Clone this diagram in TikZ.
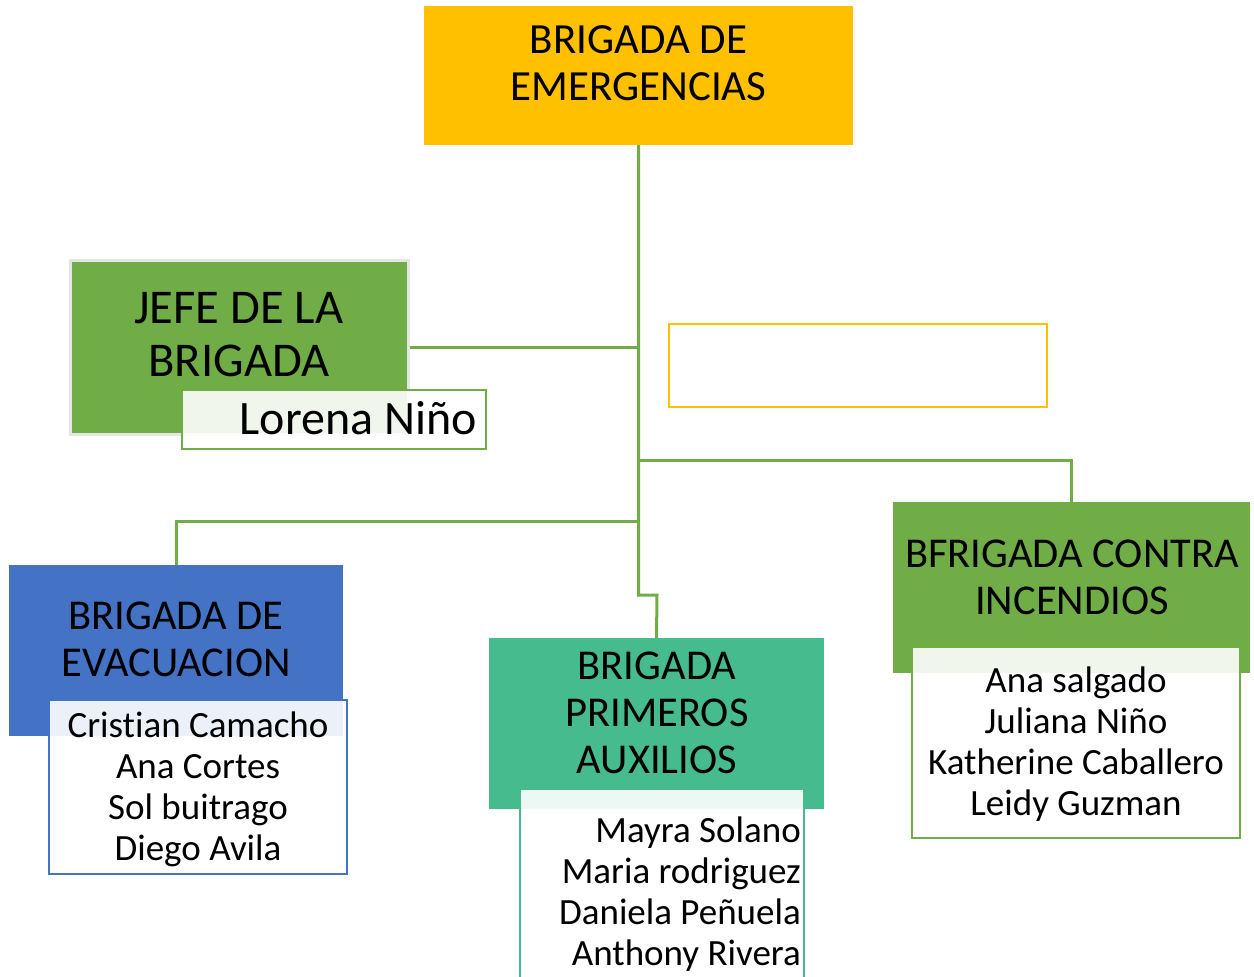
\documentclass[tikz,border=0pt]{standalone}
\usepackage{fontspec}
\setmainfont{Carlito}[RawFeature=-liga]
\usetikzlibrary{positioning}

\definecolor{gold}{HTML}{FFC000}
\definecolor{gruen}{HTML}{70AD47}
\definecolor{blau}{HTML}{4472C4}
\definecolor{tuerkis}{HTML}{46BB8D}

\begin{document}
\begin{tikzpicture}[x=1pt, y=-1pt,
    kasten/.style={rectangle, inner sep=0pt},
    liste/.style={rectangle, inner sep=0pt, fill=white, fill opacity=0.9,
                  text opacity=1, line width=2.5pt},
    titel/.style={inner sep=0pt, align=center,
                  font=\fontsize{42.5}{47}\selectfont},
    namen/.style={inner sep=0pt, font=\fontsize{37}{41}\selectfont},
    linie/.style={draw=gruen, line width=3pt}
    ]
    % Rahmen des Bildes
    \useasboundingbox (0,0) rectangle (1254,977);

    % Kopf der Brigade
    \node[kasten, fill=gold, minimum width=429, minimum height=139]
        (top) at (638.5,75.5) {};
    \node[titel, font=\fontsize{43}{47}\selectfont] (toptxt) at (638.5,63.5)
        {BRIGADA DE\\EMERGENCIAS};

    % Kaesten der Brigaden
    \node[kasten, fill=gruen, draw=black!10, line width=3pt,
          minimum width=338, minimum height=174] (jefe) at (239,347) {};
    \node[kasten, fill=blau, minimum width=334, minimum height=171]
        (evac) at (176,650.5) {};
    \node[kasten, fill=tuerkis, minimum width=335, minimum height=171]
        (prim) at (656.5,723.5) {};
    \node[kasten, fill=gruen, minimum width=357, minimum height=171]
        (inc) at (1071.5,587.5) {};
    \node[kasten, draw=gold, line width=2.5pt, minimum width=378,
          minimum height=83] (leer) at (858,365.5) {};

    % Knickpunkte
    \coordinate (knick) at (657,595);
    \coordinate (a1) at (638.5,460);
    \coordinate (a2) at (638.5,521);

    % Verbindungslinien
    \draw[linie] (top.south) |- (knick) -- (prim.north);
    \draw[linie] (jefe.east) -- (jefe.east -| top.south);
    \draw[linie] (a1) -| (inc.north);
    \draw[linie] (a2) -| (evac.north);

    % Titel der Brigaden
    \node[titel, font=\fontsize{48.5}{53}\selectfont] (jefetxt) at (239,335)
        {JEFE DE LA\\BRIGADA};
    \node[titel] (evactxt) at (176,639) {BRIGADA DE\\EVACUACION};
    \node[titel] (primtxt) at (657,712.5) {BRIGADA\\PRIMEROS\\AUXILIOS};
    \node[titel] (inctxt) at (1072,577.5) {BFRIGADA CONTRA\\INCENDIOS};

    % Namenslisten
    \node[liste, draw=gruen, minimum width=304, minimum height=59]
        (lorena) at (334,419.5) {};
    \node[namen, font=\fontsize{48}{50}\selectfont, anchor=east]
        (lorenatxt) at (477,418) {Lorena Niño};

    \node[liste, draw=blau, minimum width=298, minimum height=174]
        (evacliste) at (198,787) {};
    \node[namen, align=center] (evacnamen) at (198,789.5)
        {Cristian Camacho\\Ana Cortes\\Sol buitrago\\Diego Avila};

    \node[liste, draw=tuerkis, minimum width=284, minimum height=211]
        (primliste) at (662,894.5) {};
    \node[namen, align=right, anchor=east] (primnamen) at (801,894.5)
        {Mayra Solano\\Maria rodriguez\\Daniela Peñuela\\Anthony Rivera};

    \node[liste, draw=gruen, minimum width=328, minimum height=191]
        (incliste) at (1076,742.5) {};
    \node[namen, align=center] (incnamen) at (1076,744.5)
        {Ana salgado\\Juliana Niño\\Katherine Caballero\\Leidy Guzman};
\end{tikzpicture}
\end{document}
